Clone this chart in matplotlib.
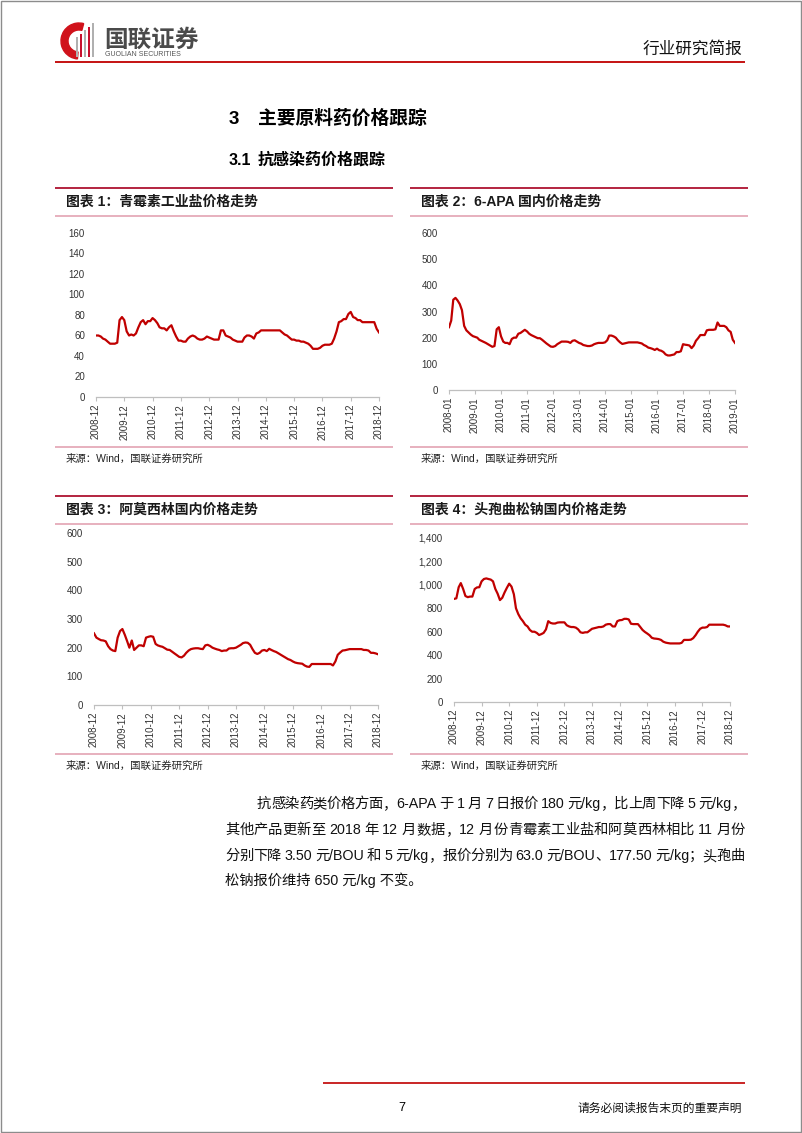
import re

import matplotlib
matplotlib.use("Agg")
import matplotlib.pyplot as plt
from matplotlib.patches import Wedge, Rectangle
from matplotlib.ticker import FuncFormatter
import pandas as pd

CJK = ["Noto Sans CJK SC"]
MIXED = ["Liberation Sans", "Noto Sans CJK SC"]
plt.rcParams["font.family"] = MIXED
plt.rcParams["axes.unicode_minus"] = False

# ---- data ----
penicillin_dates = pd.date_range("2008-12-01", "2018-12-01", freq="MS")
penicillin = [
    60, 60, 59, 57, 56, 54, 52, 52, 52, 53, 75, 78,
    75, 64, 60, 61, 60, 62, 68, 73, 75, 71, 74, 74,
    77, 75, 72, 68, 67, 67, 65, 68, 70, 64, 59, 55,
    55, 54, 54, 57, 59, 60, 59, 57, 56, 56, 57, 59,
    58, 57, 56, 56, 56, 65, 65, 60, 59, 58, 56, 55,
    54, 54, 54, 58, 60, 60, 59, 57, 62, 63, 65, 65,
    65, 65, 65, 65, 65, 65, 65, 63, 61, 60, 58, 56,
    56, 55, 55, 54, 54, 53, 52, 50, 47, 47, 47, 48,
    50, 51, 51, 51, 52, 57, 64, 73, 74, 76, 76, 81,
    83, 78, 77, 75, 75, 73, 73, 73, 73, 73, 73, 66.5,
    63,
]

apa_dates = pd.date_range("2008-01-01", "2019-01-01", freq="MS")
apa = [
    240, 265, 345, 352, 342, 328, 305, 245, 228, 220, 212, 206,
    203, 200, 192, 188, 184, 180, 175, 170, 165, 168, 232, 240,
    205, 185, 180, 180, 175, 195, 200, 200, 215, 218, 224, 230,
    224, 215, 210, 206, 202, 198, 198, 192, 185, 178, 172, 166,
    165, 168, 175, 180, 185, 185, 185, 184, 180, 188, 190, 185,
    180, 177, 172, 170, 168, 168, 170, 175, 178, 180, 180, 180,
    182, 190, 208, 208, 205, 200, 190, 182, 176, 178, 180, 182,
    182, 182, 182, 182, 180, 178, 172, 168, 162, 160, 157, 153,
    158, 152, 150, 145, 136, 132, 132, 134, 136, 145, 145, 148,
    175, 173, 172, 170, 160, 170, 188, 198, 210, 210, 210, 228,
    230, 230, 230, 232, 258, 245, 245, 245, 240, 228, 222, 192,
    180,
]

amoxicillin_dates = pd.date_range("2008-12-01", "2018-12-01", freq="MS")
amoxicillin = [
    250, 235, 230, 226, 225, 222, 205, 195, 190, 188, 235, 258,
    265, 245, 222, 200, 225, 192, 200, 208, 208, 205, 235, 238,
    240, 238, 213, 208, 205, 203, 198, 193, 192, 186, 180, 174,
    168, 166, 172, 182, 190, 195, 197, 198, 198, 196, 195, 208,
    210, 206, 200, 197, 194, 192, 188, 190, 190, 197, 198, 198,
    200, 205, 210, 216, 218, 217, 210, 195, 182, 178, 182, 190,
    192, 188, 196, 192, 188, 185, 180, 175, 170, 165, 160, 157,
    152, 148, 146, 145, 144, 138, 134, 133, 143, 143, 143, 143,
    143, 143, 143, 143, 143, 138, 152, 175, 183, 190, 191, 193,
    195, 195, 195, 195, 195, 195, 192, 192, 190, 182, 182, 180,
    177,
]

ceftriaxone_dates = pd.date_range("2008-12-01", "2018-12-01", freq="MS")
ceftriaxone = [
    880, 885, 980, 1015, 965, 905, 895, 900, 900, 965, 978, 980,
    1030, 1050, 1055, 1050, 1045, 1030, 965, 925, 870, 890, 935, 975,
    1010, 985, 920, 800, 750, 715, 690, 660, 645, 615, 600, 600,
    590, 572, 580, 590, 620, 690, 675, 670, 670, 678, 680, 680,
    680, 655, 645, 640, 640, 635, 620, 595, 590, 595, 595, 610,
    625, 630, 635, 640, 640, 645, 660, 665, 665, 645, 645, 690,
    698, 700, 710, 710, 705, 668, 665, 665, 665, 640, 615, 598,
    585, 570, 548, 542, 540, 537, 530, 515, 507, 503, 500, 500,
    500, 500, 500, 505, 530, 530, 530, 532, 545, 570, 600, 625,
    635, 635, 640, 660, 660, 660, 660, 660, 660, 660, 655, 645,
    645,
]

chart_titles = [
    "图表 1：青霉素工业盐价格走势",
    "图表 2：6-APA 国内价格走势",
    "图表 3：阿莫西林国内价格走势",
    "图表 4：头孢曲松钠国内价格走势",
]
source_text = "来源：Wind，国联证券研究所"

paragraph = [
    "抗感染药类价格方面，6-APA 于 1 月 7 日报价 180 元/kg，比上周下降 5 元/kg，",
    "其他产品更新至 2018 年 12 月数据，12 月份青霉素工业盐和阿莫西林相比 11 月份",
    "分别下降 3.50 元/BOU 和 5 元/kg，报价分别为 63.0 元/BOU、177.50 元/kg；头孢曲",
    "松钠报价维持 650 元/kg 不变。",
]

W, H = 802, 1133
RED = "#C00000"
PANEL_RED = "#B3243F"
PINK = "#E3A3B3"

fig = plt.figure(figsize=(W / 100, H / 100), dpi=100)

# page overlay in pixel coordinates (y grows downwards)
pg = fig.add_axes([0, 0, 1, 1])
pg.set_xlim(0, W)
pg.set_ylim(H, 0)
pg.axis("off")
pg.patch.set_alpha(0)


def hline(x0, x1, y, color, lw):
    pg.plot([x0, x1], [y, y], color=color, lw=lw, solid_capstyle="butt")


# page frame
pg.add_patch(Rectangle((0.5, 0.5), W - 1.5, H - 1.5, fill=False, ec="#8C8C8C", lw=1.0))

# header logo
pg.add_patch(Wedge((79, 41), 18, 95, 285, width=7, color="#D0121B"))
for i, xx in enumerate([76, 80, 84, 88, 92]):
    top = 37 - i * 3.5
    pg.add_patch(Rectangle((xx, top), 1.6, 57 - top, color="#C8102E" if i % 2 else "#B0B0B0", lw=0))
pg.text(104, 40, "国联证券", family=CJK, fontsize=17, fontweight="bold", color="#4A4A4A",
        va="center", ha="left")
pg.text(105, 54, "GUOLIAN SECURITIES", fontsize=5, color="#555555", va="center", ha="left")
pg.text(742, 49, "行业研究简报", family=CJK, fontsize=12, color="#111111", va="center", ha="right")
hline(55, 745, 62, RED, 1.3)

# section headings (shared baselines)
pg.text(229, 124, "3", fontsize=13.5, fontweight="bold", va="baseline", ha="left")
pg.text(258, 124, "主要原料药价格跟踪", family=CJK, fontsize=13.5, fontweight="bold",
        va="baseline", ha="left")
pg.text(229, 165, "3.1", fontsize=11.5, fontweight="bold", va="baseline", ha="left")
pg.text(258, 165, "抗感染药价格跟踪", family=CJK, fontsize=11.5, fontweight="bold",
        va="baseline", ha="left")

# chart panels: (x0, x1, top line, axes box left/right/top/bottom)
panels = [
    (55, 393, 188, (96, 379, 233, 397)),
    (410, 748, 188, (449, 735, 233, 390)),
    (55, 393, 496, (94, 378, 533, 705)),
    (410, 748, 496, (454, 730, 538, 702)),
]
series = [
    (penicillin_dates, penicillin, 160, 20),
    (apa_dates, apa, 600, 100),
    (amoxicillin_dates, amoxicillin, 600, 100),
    (ceftriaxone_dates, ceftriaxone, 1400, 200),
]

for k, ((x0, x1, top, box), (dates, vals, ymax, ystep)) in enumerate(zip(panels, series)):
    hline(x0, x1, top, PANEL_RED, 1.4)
    pg.text(x0 + 11, top + 14, chart_titles[k], fontsize=10, fontweight="bold",
            color="#1A1A1A", va="center", ha="left")
    hline(x0, x1, top + 28, PINK, 1.2)
    bottom_line = 447 if top == 188 else 754
    hline(x0, x1, bottom_line, PINK, 1.2)
    pg.text(x0 + 11, bottom_line + 12, source_text, fontsize=7.5, color="#222222",
            va="center", ha="left")

    l, r, t, b = box
    ax = fig.add_axes([l / W, 1 - b / H, (r - l) / W, (b - t) / H])
    ax.plot(dates, vals, color=RED, lw=1.6)
    ax.set_xlim(dates[0], dates[-1])
    ax.set_ylim(0, ymax)
    ax.set_yticks(range(0, ymax + 1, ystep))
    if ymax >= 1000:
        ax.yaxis.set_major_formatter(FuncFormatter(lambda v, p: f"{int(v):,}"))
    ticks = dates[::12]
    ax.set_xticks(ticks)
    ax.set_xticklabels([d.strftime("%Y-%m") for d in ticks], rotation=90)
    for side in ("top", "right", "left"):
        ax.spines[side].set_visible(False)
    ax.spines["bottom"].set_color("#BFBFBF")
    ax.spines["bottom"].set_linewidth(0.9)
    ax.tick_params(axis="y", length=0, pad=8, labelsize=7, labelcolor="#333333")
    ax.tick_params(axis="x", length=3, width=0.8, color="#BFBFBF", pad=2,
                   labelsize=7, labelcolor="#333333")
    ax.patch.set_alpha(0)

# paragraph, justified between the margins
renderer = fig.canvas.get_renderer()
line_y = [804, 830, 856, 880]
right_edge = 745
PFS = 10.3
space_w = 3.5
for i, line in enumerate(paragraph):
    left = 257 if i == 0 else 225
    if i == len(paragraph) - 1:
        pg.text(left, line_y[i], line, fontsize=PFS, va="center", ha="left", color="#111111")
        continue
    tokens = re.findall(r"[A-Za-z0-9./\-]+| |[^\sA-Za-z0-9./\-]", line)
    widths = []
    for tok in tokens:
        if tok == " ":
            widths.append(space_w)
            continue
        t = pg.text(0, 0, tok, fontsize=PFS)
        widths.append(t.get_window_extent(renderer).width)
        t.remove()
    gap = (right_edge - left - sum(widths)) / (len(tokens) - 1)
    x = left
    for tok, w in zip(tokens, widths):
        if tok != " ":
            pg.text(x, line_y[i], tok, fontsize=PFS, va="center", ha="left", color="#111111")
        x += w + gap

# footer
hline(323, 745, 1083, RED, 1.2)
pg.text(402, 1108, "7", fontsize=9, va="center", ha="center")
pg.text(742, 1108, "请务必阅读报告末页的重要声明", family=CJK, fontsize=8.5, va="center",
        ha="right", color="#111111")

fig.savefig("out.png", dpi=100)
